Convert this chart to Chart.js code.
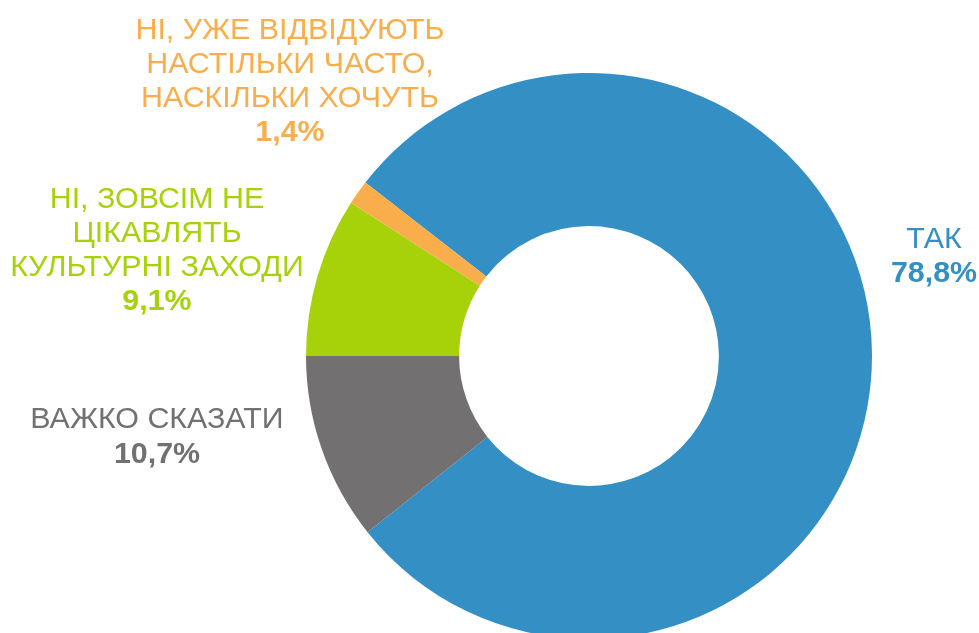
<!DOCTYPE html>
<html>
<head>
<meta charset="utf-8">
<script src="https://cdn.jsdelivr.net/npm/chart.js@4/dist/chart.umd.min.js"></script>
<style>
html,body{margin:0;padding:0;background:#fff;overflow:hidden;width:979px;height:633px;}
canvas{display:block;}
</style>
</head>
<body>
<canvas id="c" width="979" height="700"></canvas>
<script>
const categories = ["ТАК", "ВАЖКО СКАЗАТИ", "НІ, ЗОВСІМ НЕ ЦІКАВЛЯТЬ КУЛЬТУРНІ ЗАХОДИ", "НІ, УЖЕ ВІДВІДУЮТЬ НАСТІЛЬКИ ЧАСТО, НАСКІЛЬКИ ХОЧУТЬ"];
const values = [78.8, 10.7, 9.1, 1.4];
const valueLabels = ["78,8%", "10,7%", "9,1%", "1,4%"];
const labelLines = [
  ["ТАК"],
  ["ВАЖКО СКАЗАТИ"],
  ["НІ, ЗОВСІМ НЕ", "ЦІКАВЛЯТЬ", "КУЛЬТУРНІ ЗАХОДИ"],
  ["НІ, УЖЕ ВІДВІДУЮТЬ", "НАСТІЛЬКИ ЧАСТО,", "НАСКІЛЬКИ ХОЧУТЬ"]
];
const colors = ["#338FC4", "#727071", "#A7D20A", "#FAAD4B"];

// label anchor: center x, baseline of first line, line step
const labelPos = [
  {x: 934, y: 248, step: 34},
  {x: 157, y: 428, step: 35},
  {x: 157, y: 208, step: 34},
  {x: 290, y: 39, step: 34}
];

const labelsPlugin = {
  id: 'sliceLabels',
  afterDraw(chart) {
    const ctx = chart.ctx;
    ctx.save();
    ctx.textAlign = 'center';
    ctx.textBaseline = 'alphabetic';
    labelLines.forEach((lines, i) => {
      const p = labelPos[i];
      ctx.fillStyle = colors[i];
      ctx.font = '30.4px "Liberation Sans", Arial, sans-serif';
      lines.forEach((t, j) => ctx.fillText(t, p.x, p.y + j * p.step));
      ctx.font = 'bold 30.4px "Liberation Sans", Arial, sans-serif';
      ctx.fillText(valueLabels[i], p.x, p.y + lines.length * p.step);
    });
    ctx.restore();
  }
};

new Chart(document.getElementById('c'), {
  type: 'doughnut',
  data: {
    labels: categories,
    datasets: [{
      data: values,
      backgroundColor: colors,
      borderWidth: 0,
      hoverOffset: 0
    }]
  },
  options: {
    responsive: false,
    animation: false,
    cutout: '45.9%',
    rotation: -52.2,
    layout: {padding: {left: 306, right: 107, top: 73, bottom: 61}},
    plugins: {legend: {display: false}, tooltip: {enabled: false}}
  },
  plugins: [labelsPlugin]
});
</script>
</body>
</html>
